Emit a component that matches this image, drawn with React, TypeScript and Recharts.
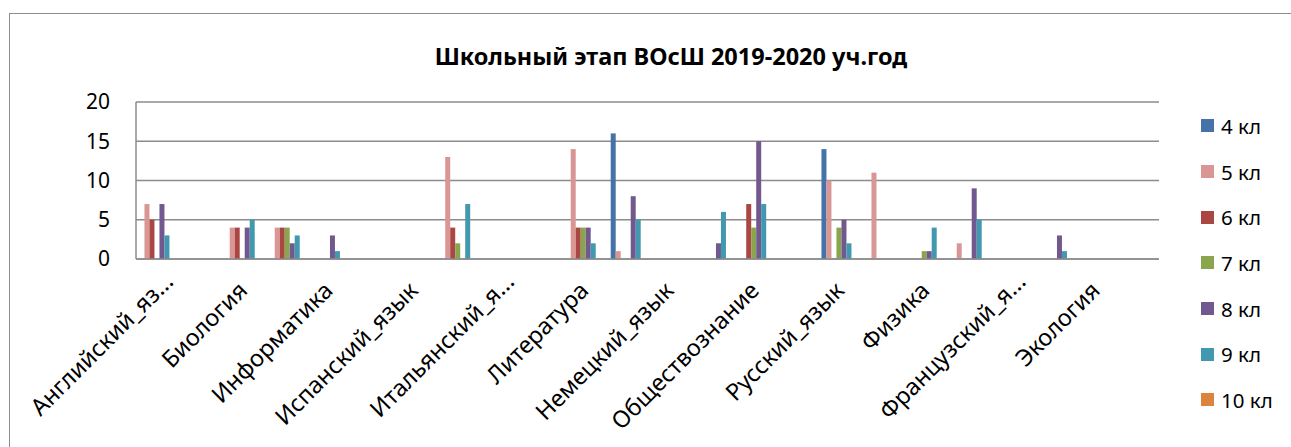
import React from "react";
import { BarChart, Bar, XAxis, YAxis, CartesianGrid, Legend } from "recharts";

const categories = [
  "Английский_яз...",
  "Биология",
  "Информатика",
  "Испанский_язык",
  "Итальянский_я...",
  "Литература",
  "Немецкий_язык",
  "Обществознание",
  "Русский_язык",
  "Физика",
  "Французский_я...",
  "Экология",
];

const classNames = ["4 кл", "5 кл", "6 кл", "7 кл", "8 кл", "9 кл", "10 кл"];
const classColors = ["#4572A7", "#D99694", "#AA4643", "#89A54E", "#71588F", "#4198AF", "#DB843D"];

// first block of columns (shown in legend)
const firstKl4 = [0, 0, 0, 0, 0, 0, 0, 0, 14, 0, 0, 0];
const firstKl5 = [7, 4, 0, 0, 0, 14, 0, 0, 10, 0, 0, 0];
const firstKl6 = [5, 4, 0, 0, 0, 4, 0, 7, 0, 0, 0, 0];
const firstKl7 = [0, 0, 0, 0, 0, 4, 0, 4, 4, 1, 0, 0];
const firstKl8 = [7, 4, 3, 0, 0, 4, 0, 15, 5, 1, 0, 0];
const firstKl9 = [3, 5, 1, 0, 0, 2, 0, 7, 2, 4, 0, 0];
const firstKl10 = [0, 0, 0, 0, 0, 0, 0, 0, 0, 0, 0, 0];

// second block of columns (legend entries cut off in the original)
const secondKl4 = [0, 0, 0, 0, 0, 16, 0, 0, 0, 0, 0, 0];
const secondKl5 = [0, 4, 0, 13, 0, 1, 0, 0, 11, 2, 0, 0];
const secondKl6 = [0, 4, 0, 4, 0, 0, 0, 0, 0, 0, 0, 0];
const secondKl7 = [0, 4, 0, 2, 0, 0, 0, 0, 0, 0, 0, 0];
const secondKl8 = [0, 2, 0, 0, 0, 8, 2, 0, 0, 9, 3, 0];
const secondKl9 = [0, 3, 0, 7, 0, 5, 6, 0, 0, 5, 1, 0];
const secondKl10 = [0, 0, 0, 0, 0, 0, 0, 0, 0, 0, 0, 0];

// empty columns between / after blocks
const emptyColA = [null, null, null, null, null, null, null, null, null, null, null, null];
const emptyColB = [null, null, null, null, null, null, null, null, null, null, null, null];
const emptyColC = [null, null, null, null, null, null, null, null, null, null, null, null];

const yTicks = [0, 5, 10, 15, 20];

const firstBlock = [firstKl4, firstKl5, firstKl6, firstKl7, firstKl8, firstKl9, firstKl10];
const secondBlock = [secondKl4, secondKl5, secondKl6, secondKl7, secondKl8, secondKl9, secondKl10];

const data = categories.map((name, i) => {
  const row: Record<string, any> = { name };
  firstBlock.forEach((arr, k) => (row["a" + k] = arr[i]));
  secondBlock.forEach((arr, k) => (row["b" + k] = arr[i]));
  row.e1 = emptyColA[i];
  row.e2 = emptyColB[i];
  row.e3 = emptyColC[i];
  return row;
});

const FONT = "'Noto Sans', 'Open Sans', sans-serif";
const GRID = "#8c8c8c";

const XTick = (props: any) => {
  const { x, y, payload } = props;
  const label: string = payload.value;
  const cut = label.endsWith("...");
  const ex = x - 15 + (cut ? 11 : 0);
  const ey = y + 33 - (cut ? 9 : 0);
  return (
    <text
      x={ex}
      y={ey}
      transform={`rotate(-45 ${ex} ${ey})`}
      textAnchor="end"
      fontFamily={FONT}
      fontSize={23.5}
      fill="#000"
    >
      {label}
    </text>
  );
};

const renderLegend = (props: any) => {
  const items = (props.payload || [])
    .filter((p: any) => p.type !== "none" && classNames.indexOf(p.value) >= 0)
    .sort((p: any, q: any) => classNames.indexOf(p.value) - classNames.indexOf(q.value));
  return (
    <div style={{ fontFamily: FONT, fontSize: 20.5, color: "#000" }}>
      {items.map((it: any, i: number) => (
        <div key={i} style={{ display: "flex", alignItems: "center", height: 45.7 }}>
          <span
            style={{ display: "inline-block", width: 13, height: 13, background: it.color, marginRight: 7 }}
          />
          <span>{it.value}</span>
        </div>
      ))}
    </div>
  );
};

export default function App() {
  return (
    <div style={{ position: "absolute", left: 0, top: 0, width: 1291, height: 447, background: "#fff", overflow: "hidden" }}>
      <div
        style={{
          position: "absolute",
          left: 9,
          top: 13,
          width: 1300,
          height: 460,
          border: "1px solid #8c8c8c",
        }}
      />
      <div
        style={{
          position: "absolute",
          left: 0,
          top: 40,
          width: 1342,
          textAlign: "center",
          fontFamily: FONT,
          fontWeight: 700,
          fontSize: 23.5,
          color: "#000",
          whiteSpace: "nowrap",
        }}
      >
        Школьный этап ВОсШ 2019-2020 уч.год
      </div>
      <div style={{ position: "absolute", left: 0, top: 0 }}>
        <BarChart
          width={1291}
          height={447}
          data={data}
          margin={{ top: 102, right: 132, bottom: 38, left: 76 }}
          barCategoryGap={3.46}
          barGap={0}
        >
          <CartesianGrid vertical={false} stroke={GRID} strokeWidth={1.5} />
          <XAxis
            dataKey="name"
            interval={0}
            height={150}
            tickLine={false}
            tickSize={0}
            tickMargin={0}
            axisLine={{ stroke: GRID, strokeWidth: 1.5 }}
            tick={<XTick />}
          />
          <YAxis
            domain={[0, 20]}
            ticks={yTicks}
            width={60}
            tickLine={false}
            tickSize={0}
            tickMargin={26}
            axisLine={{ stroke: GRID, strokeWidth: 1.5 }}
            tick={{ fontFamily: FONT, fontSize: 21, fill: "#000" }}
          />
          <Legend
            layout="vertical"
            align="center"
            verticalAlign="middle"
            content={renderLegend}
            wrapperStyle={{ position: "absolute", left: 1201, top: 103, width: 90 }}
          />
          {classNames.map((n, k) => (
            <Bar key={"a" + k} dataKey={"a" + k} name={n} fill={classColors[k]} isAnimationActive={false} />
          ))}
          <Bar dataKey="e1" name="e1" fill="#fff" legendType="none" isAnimationActive={false} />
          <Bar dataKey="e2" name="e2" fill="#fff" legendType="none" isAnimationActive={false} />
          {classNames.map((n, k) => (
            <Bar
              key={"b" + k}
              dataKey={"b" + k}
              name={n + " "}
              fill={classColors[k]}
              legendType="none"
              isAnimationActive={false}
            />
          ))}
          <Bar dataKey="e3" name="e3" fill="#fff" legendType="none" isAnimationActive={false} />
        </BarChart>
      </div>
    </div>
  );
}
